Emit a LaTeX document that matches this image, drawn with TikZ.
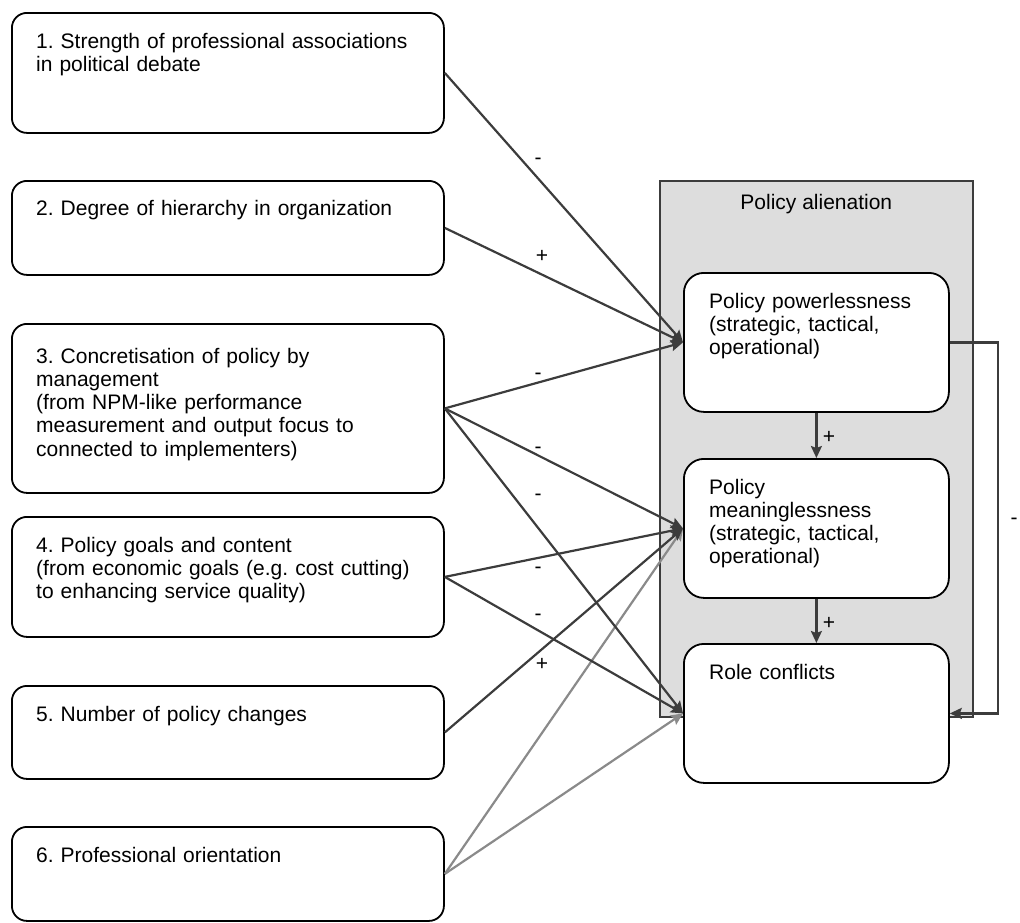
\documentclass[tikz,border=0pt]{standalone}
\usepackage{fontspec}
\setmainfont{Liberation Sans}
\usetikzlibrary{arrows.meta}
\definecolor{ln}{HTML}{3C3C3C}
\definecolor{gl}{HTML}{8A8A8A}
\definecolor{panelfill}{HTML}{DDDDDD}
\frenchspacing
\begin{document}
\begin{tikzpicture}[x=1pt,y=-1pt,
  lbox/.style={draw=black, line width=1.8pt, rounded corners=15pt, fill=white, inner sep=0pt, anchor=north west, minimum width=432pt},
  rbox/.style={draw=black, line width=1.8pt, rounded corners=20pt, fill=white, inner sep=0pt, anchor=north west, minimum width=265pt, minimum height=139pt},
  txt/.style={font=\fontsize{21}{23.3}\selectfont, text width=400pt, align=left, inner sep=0pt, anchor=base west},
  sign/.style={font=\fontsize{21}{23.3}\selectfont, inner sep=0pt, anchor=base},
  arr/.style={draw=ln, line width=2.2pt, -{Stealth[length=12pt,width=11pt,inset=2pt]}},
  garr/.style={draw=gl, line width=2.2pt, -{Stealth[length=12pt,width=11pt,inset=2pt]}}]
\useasboundingbox (0,0) rectangle (1020,922);

% right panel
\node[draw=ln, line width=1.6pt, fill=panelfill, inner sep=0pt, anchor=north west,
      minimum width=313pt, minimum height=536pt] (pa) at (659,180) {};
\node[sign] (pat) at ([yshift=-29pt]pa.north) {Policy alienation};

\node[rbox] (pp) at (683,272) {};
\node[rbox] (pm) at (683,458) {};
\node[rbox] (rc) at (683,643) {};
\node[txt, text width=230pt] (tpp) at ([xshift=26pt,yshift=-36pt]pp.north west) {Policy powerlessness\\(strategic, tactical,\\operational)};
\node[txt, text width=230pt] (tpm) at ([xshift=26pt,yshift=-36pt]pm.north west) {Policy\\meaninglessness\\(strategic, tactical,\\operational)};
\node[txt, text width=230pt] (trc) at ([xshift=26pt,yshift=-36pt]rc.north west) {Role conflicts};

% left boxes
\node[lbox, minimum height=120pt] (b1) at (11,12) {};
\node[lbox, minimum height=94pt] (b2) at (11,180) {};
\node[lbox, minimum height=169pt] (b3) at (11,323) {};
\node[lbox, minimum height=120pt] (b4) at (11,516) {};
\node[lbox, minimum height=93pt] (b5) at (11,685) {};
\node[lbox, minimum height=94pt] (b6) at (11,826) {};

\node[txt] (t1) at ([xshift=25pt,yshift=-36pt]b1.north west) {1. Strength of professional associations\\in political debate};
\node[txt] (t2) at ([xshift=25pt,yshift=-35pt]b2.north west) {2. Degree of hierarchy in organization};
\node[txt] (t3) at ([xshift=25pt,yshift=-40pt]b3.north west) {3. Concretisation of policy by\\management\\(from NPM-like performance\\measurement and output focus to\\connected to implementers)};
\node[txt] (t4) at ([xshift=25pt,yshift=-36pt]b4.north west) {4. Policy goals and content\\(from economic goals (e.g. cost cutting)\\to enhancing service quality)};
\node[txt] (t5) at ([xshift=25pt,yshift=-36pt]b5.north west) {5. Number of policy changes};
\node[txt] (t6) at ([xshift=25pt,yshift=-36pt]b6.north west) {6. Professional orientation};

% connectors
\draw[garr] (b6.east) -- (pm.west);
\draw[garr] (b6.east) -- (rc.west);
\draw[arr] (b1.east) -- (pp.west);
\draw[arr] (b2.east) -- (pp.west);
\draw[arr] (b3.east) -- (pp.west);
\draw[arr] (b3.east) -- (pm.west);
\draw[arr] (b3.east) -- (rc.west);
\draw[arr] (b4.east) -- (pm.west);
\draw[arr] (b4.east) -- (rc.west);
\draw[arr] (b5.east) -- (pm.west);
\draw[arr] (pp.south) -- (pm.north);
\draw[arr] (pm.south) -- (rc.north);
\draw[arr] (pp.east) -- ++(48,0) |- (rc.east);

% signs
\node[sign] (s1) at (538,164) {-};
\node[sign] (s2) at (542,262) {+};
\node[sign] (s3) at (538,379) {-};
\node[sign] (s4) at (538,453) {-};
\node[sign] (s5) at (538,500) {-};
\node[sign] (s6) at (538,573) {-};
\node[sign] (s7) at (538,620) {-};
\node[sign] (s8) at (542,670) {+};
\node[sign] (s9) at (829,443) {+};
\node[sign] (s10) at (829,629) {+};
\node[sign] (s11) at (1014,524) {-};
\end{tikzpicture}
\end{document}
